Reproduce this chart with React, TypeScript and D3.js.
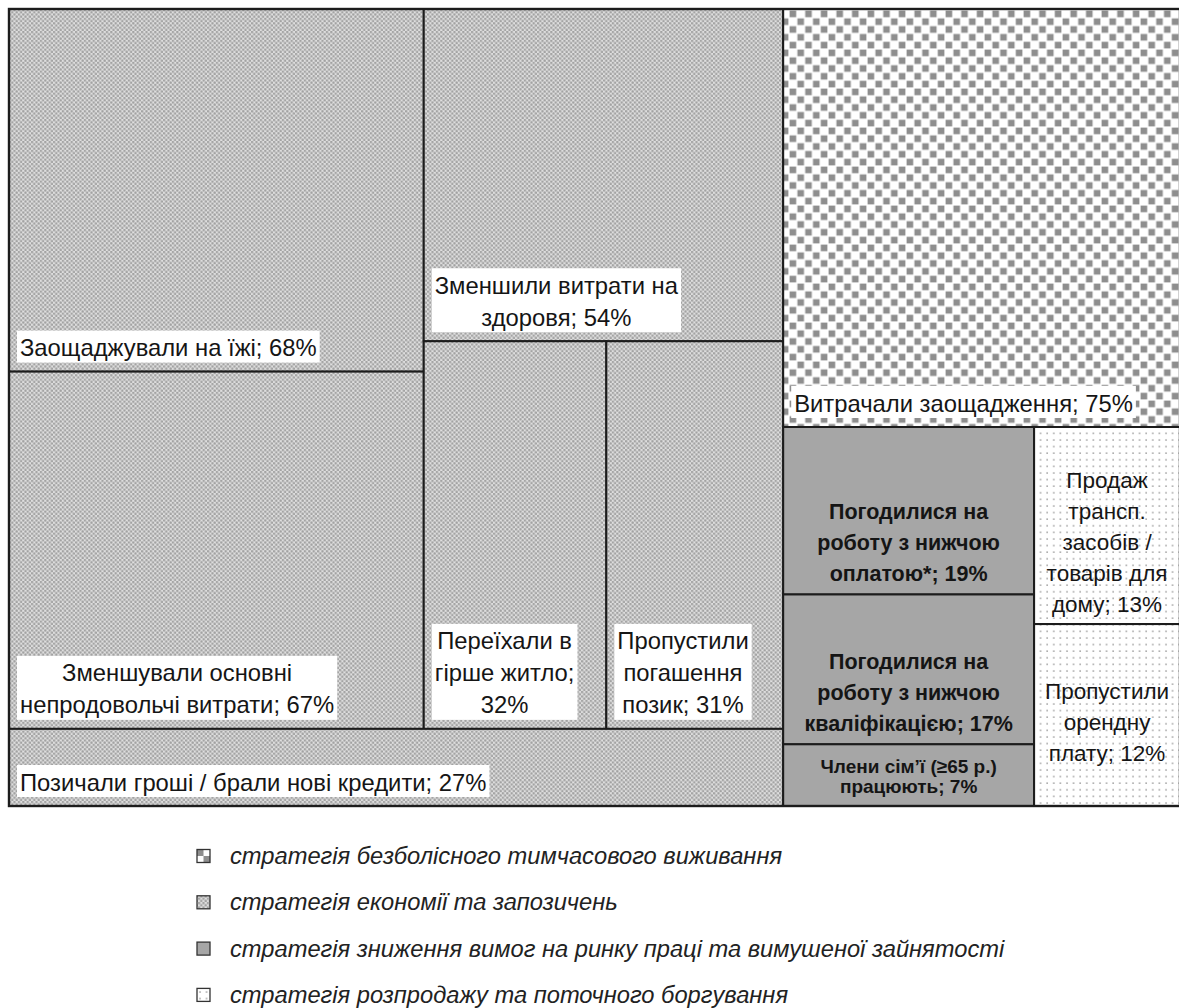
import React, { useEffect, useRef } from 'react';
import * as d3 from 'd3';

// ---- data ----
const groupKeys = ['painless', 'economy', 'labour', 'sale'];
const groupNames = [
  'стратегія безболісного тимчасового виживання',
  'стратегія економії та запозичень',
  'стратегія зниження вимог на ринку праці та вимушеної зайнятості',
  'стратегія розпродажу та поточного боргування',
];

const itemIds = ['food', 'nonfood', 'health', 'housing', 'loans', 'borrow', 'savings', 'lowpay', 'lowqual', 'family', 'selling', 'rent'];
const itemGroups = ['economy', 'economy', 'economy', 'economy', 'economy', 'economy', 'painless', 'labour', 'labour', 'labour', 'sale', 'sale'];
const itemValues = [68, 67, 54, 32, 31, 27, 75, 19, 17, 7, 13, 12];
const itemLabels = [
  ['Заощаджували на їжі; 68%'],
  ['Зменшували основні', 'непродовольчі витрати; 67%'],
  ['Зменшили витрати на', 'здоровя; 54%'],
  ['Переїхали в', 'гірше житло;', '32%'],
  ['Пропустили', 'погашення', 'позик; 31%'],
  ['Позичали гроші / брали нові кредити; 27%'],
  ['Витрачали заощадження; 75%'],
  ['Погодилися на', 'роботу з нижчою', 'оплатою*; 19%'],
  ['Погодилися на', 'роботу з нижчою', 'кваліфікацією; 17%'],
  ['Члени сім\u2019ї (≥65 р.)', 'працюють; 7%'],
  ['Продаж', 'трансп.', 'засобів /', 'товарів для', 'дому; 13%'],
  ['Пропустили', 'орендну', 'плату; 12%'],
];

// layout plan of the economy group (indices into its children sorted by value)
const economyPlan: any = { dir: 'v', parts: [{ dir: 'h', parts: [{ dir: 'v', parts: [0, 1] }, { dir: 'v', parts: [2, { dir: 'h', parts: [3, 4] }] }] }, 5] };

const FONT = '"Liberation Sans", Arial, sans-serif';

function planValue(spec: any, nodes: any[]): number {
  if (typeof spec === 'number') return nodes[spec].value;
  return d3.sum(spec.parts, (p: any) => planValue(p, nodes));
}

function applyPlan(spec: any, nodes: any[], x0: number, y0: number, x1: number, y1: number) {
  if (typeof spec === 'number') {
    const n = nodes[spec];
    n.x0 = x0; n.y0 = y0; n.x1 = x1; n.y1 = y1;
    return;
  }
  const kids = spec.parts.map((p: any) => ({ spec: p, value: planValue(p, nodes) }));
  const pseudo: any = { value: d3.sum(kids, (k: any) => k.value), children: kids };
  (spec.dir === 'h' ? d3.treemapDice : d3.treemapSlice)(pseudo, x0, y0, x1, y1);
  kids.forEach((k: any) => applyPlan(k.spec, nodes, k.x0, k.y0, k.x1, k.y1));
}

function tile(node: any, x0: number, y0: number, x1: number, y1: number) {
  if (node.depth === 0) return d3.treemapSquarify.ratio(1)(node, x0, y0, x1, y1);
  if (node.data.key === 'economy') return applyPlan(economyPlan, node.children, x0, y0, x1, y1);
  return d3.treemapSlice(node, x0, y0, x1, y1);
}

export default function App() {
  const ref = useRef<SVGSVGElement>(null);

  useEffect(() => {
    const svg = d3.select(ref.current as SVGSVGElement);
    svg.selectAll('*').remove();
    const defs = svg.append('defs');

    // economy: fine diagonal dot pattern
    const pe = defs.append('pattern').attr('id', 'p-economy').attr('patternUnits', 'userSpaceOnUse').attr('width', 4.4).attr('height', 4.4);
    pe.append('rect').attr('width', 4.4).attr('height', 4.4).attr('fill', '#dedede');
    pe.append('circle').attr('cx', 1.1).attr('cy', 1.1).attr('r', 1.25).attr('fill', '#a2a2a2');
    pe.append('circle').attr('cx', 3.3).attr('cy', 3.3).attr('r', 1.25).attr('fill', '#a2a2a2');

    // painless: checkerboard
    const c = 7.8;
    const pp = defs.append('pattern').attr('id', 'p-painless').attr('patternUnits', 'userSpaceOnUse').attr('width', 2 * c).attr('height', 2 * c).attr('x', 0).attr('y', 1);
    pp.append('rect').attr('width', 2 * c).attr('height', 2 * c).attr('fill', '#ffffff');
    pp.append('rect').attr('x', 0.6).attr('y', 0.6).attr('width', c - 1.2).attr('height', c - 1.2).attr('fill', '#8e8e8e');
    pp.append('rect').attr('x', c + 0.6).attr('y', c + 0.6).attr('width', c - 1.2).attr('height', c - 1.2).attr('fill', '#8e8e8e');

    // sale: sparse dots
    const ps = defs.append('pattern').attr('id', 'p-sale').attr('patternUnits', 'userSpaceOnUse').attr('width', 6.6).attr('height', 6.6);
    ps.append('rect').attr('width', 6.6).attr('height', 6.6).attr('fill', '#ffffff');
    ps.append('circle').attr('cx', 2).attr('cy', 2).attr('r', 0.9).attr('fill', '#9a9a9a');

    const fills: Record<string, string> = {
      economy: 'url(#p-economy)',
      painless: 'url(#p-painless)',
      labour: '#a6a6a6',
      sale: 'url(#p-sale)',
    };

    const data = {
      key: 'root',
      children: groupKeys.map((g) => ({
        key: g,
        children: itemIds
          .map((id, i) => ({ key: id, value: itemValues[i], group: itemGroups[i], lines: itemLabels[i] }))
          .filter((d) => d.group === g),
      })),
    };

    const root = d3
      .hierarchy<any>(data)
      .sum((d: any) => d.value ?? 0)
      .sort((a: any, b: any) => (b.value ?? 0) - (a.value ?? 0));

    const X0 = 9, Y0 = 9, W = 1171, H = 797;
    d3.treemap<any>().tile(tile as any).size([W, H])(root);

    const chart = svg.append('g').attr('transform', `translate(${X0},${Y0})`);
    const leaves = root.leaves() as any[];

    chart
      .selectAll('rect.cell')
      .data(leaves)
      .join('rect')
      .attr('class', 'cell')
      .attr('x', (d) => d.x0)
      .attr('y', (d) => d.y0)
      .attr('width', (d) => d.x1 - d.x0)
      .attr('height', (d) => d.y1 - d.y0)
      .attr('fill', (d) => fills[d.data.group])
      .attr('stroke', '#1c1c1c')
      .attr('stroke-width', 2);

    // outer border
    chart
      .append('rect')
      .attr('x', 0)
      .attr('y', 0)
      .attr('width', W)
      .attr('height', H)
      .attr('fill', 'none')
      .attr('stroke', '#1c1c1c')
      .attr('stroke-width', 2.4);

    const liftMap: Record<string, number> = { rent: 33 };

    leaves.forEach((d) => {
      const lines: string[] = d.data.lines;
      const grp = d.data.group;
      const g = chart.append('g');
      if (grp === 'economy' || grp === 'painless') {
        const lh = 32;
        const texts = lines.map((ln) =>
          g.append('text').text(ln).attr('font-family', FONT).attr('font-size', 23.8).attr('fill', '#151515').attr('text-anchor', 'middle').attr('dominant-baseline', 'central')
        );
        const maxW = d3.max(texts, (t) => (t.node() as SVGTextElement).getComputedTextLength()) ?? 0;
        const bw = maxW + 6;
        const bh = lines.length * lh;
        const bx = d.x0 + 8;
        const by = d.y1 - 9 - bh;
        g.insert('rect', 'text').attr('x', bx).attr('y', by).attr('width', bw).attr('height', bh).attr('fill', '#ffffff');
        texts.forEach((t, i) => t.attr('x', bx + bw / 2).attr('y', by + lh * (i + 0.5) + 1));
      } else {
        const small = d.data.key === 'family';
        const lh = small ? 20 : 31;
        const cx = (d.x0 + d.x1) / 2;
        const lastY = d.y1 - 20 - (liftMap[d.data.key] ?? 0);
        lines.forEach((ln, i) => {
          g.append('text')
            .text(ln)
            .attr('x', cx)
            .attr('y', lastY - (lines.length - 1 - i) * lh)
            .attr('font-family', FONT)
            .attr('font-size', small ? 19 : grp === 'labour' ? 21.5 : 22.5)
            .attr('font-weight', grp === 'labour' ? 'bold' : 'normal')
            .attr('fill', '#151515')
            .attr('text-anchor', 'middle')
            .attr('dominant-baseline', 'central');
        });
      }
    });

    // legend (order as in reference)
    const legendOrder = ['painless', 'economy', 'labour', 'sale'];
    const lg = svg.append('g');
    const iconX = 197, textX = 230, ly0 = 856, lstep = 46.3, isz = 13;

    legendOrder.forEach((k, i) => {
      const cy = ly0 + i * lstep;
      const ix = iconX, iy = cy - isz / 2;
      const row = lg.append('g');
      if (k === 'painless') {
        row.append('rect').attr('x', ix).attr('y', iy).attr('width', isz).attr('height', isz).attr('fill', '#fff');
        const h = isz / 2;
        row.append('rect').attr('x', ix).attr('y', iy).attr('width', h).attr('height', h).attr('fill', '#8e8e8e');
        row.append('rect').attr('x', ix + h).attr('y', iy + h).attr('width', h).attr('height', h).attr('fill', '#8e8e8e');
      } else {
        row.append('rect').attr('x', ix).attr('y', iy).attr('width', isz).attr('height', isz).attr('fill', fills[k]);
      }
      row.append('rect').attr('x', ix).attr('y', iy).attr('width', isz).attr('height', isz).attr('fill', 'none').attr('stroke', '#333').attr('stroke-width', 1.3);
      row
        .append('text')
        .text(groupNames[groupKeys.indexOf(k)])
        .attr('x', textX)
        .attr('y', cy)
        .attr('font-family', FONT)
        .attr('font-style', 'italic')
        .attr('font-size', 23.7)
        .attr('fill', '#222')
        .attr('dominant-baseline', 'central');
    });
  }, []);

  return (
    <svg
      ref={ref}
      width={1179}
      height={1008}
      style={{ position: 'absolute', left: 0, top: 0, background: '#ffffff', display: 'block' }}
    />
  );
}
